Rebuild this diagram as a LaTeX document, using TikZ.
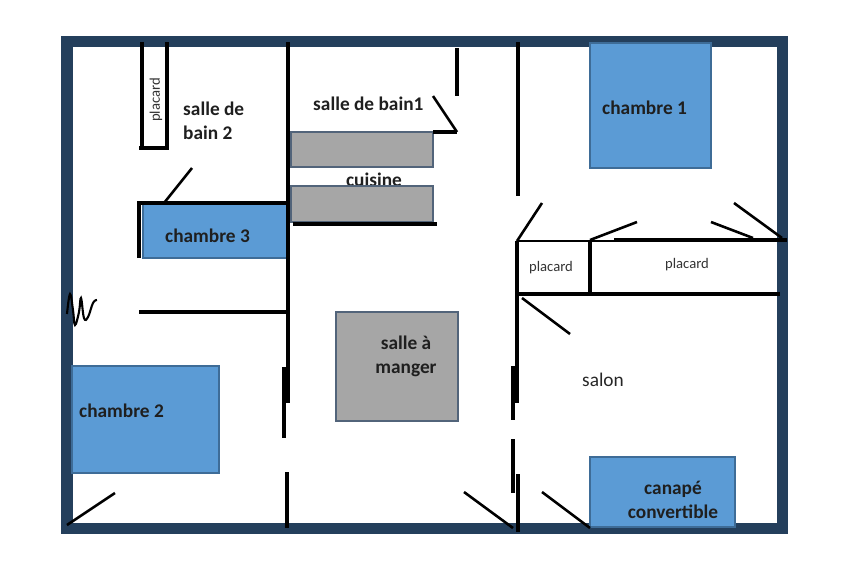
\documentclass[tikz,border=0pt]{standalone}
\usepackage{fontspec}
\setmainfont{Carlito}
\usetikzlibrary{calc,positioning}
\definecolor{framecol}{HTML}{243F5C}
\definecolor{bedblue}{HTML}{5B9BD5}
\definecolor{bededge}{HTML}{3E6C97}
\definecolor{furngray}{HTML}{A6A6A6}
\definecolor{furnedge}{HTML}{52647A}
\tikzset{
    frame/.style = {draw=framecol, line width=9.4pt},
    wall/.style = {draw=black, line width=2.6pt},
    leaf/.style = {draw=black, line width=2.2pt},
    bed/.style = {fill=bedblue, draw=bededge, line width=1.3pt},
    furn/.style = {fill=furngray, draw=furnedge, line width=1.1pt},
    lbl/.style = {inner sep=0pt, text=black!88, font=\fontsize{16.5}{20.4}\selectfont\bfseries},
    plain/.style = {inner sep=0pt, text=black!85, font=\fontsize{16.5}{20.4}\selectfont},
    small/.style = {inner sep=0pt, text=black!80, font=\fontsize{12.5}{14}\selectfont}
}

\begin{document}
\begin{tikzpicture}[x=0.03cm, y=-0.03cm]
    \useasboundingbox (0,0) rectangle (848,575);
    \draw[frame] (67,41) rectangle (782,528);

    % furniture
    \draw[bed] (143,203) rectangle (288,258);
    \draw[bed] (72,366) rectangle (219,473);
    \draw[bed] (590,43) rectangle (711,168);
    \draw[bed] (590,457) rectangle (735,527);
    \draw[furn] (291,132) rectangle (433,167);
    \node[lbl, anchor=base] (cuisine) at (374,186) {cuisine};
    \draw[furn] (291,186) rectangle (433,222);
    \draw[furn] (336,312) rectangle (458,421);

    % left wing
    \draw[wall] (142,42) -- (142,148) -- (139,148);
    \draw[wall] (167,42) -- (167,148) -- (142,148);
    \draw[leaf] (192,168) -- (164,203);
    \draw[wall] (139,258) -- (139,203) -- (288,203);
    \draw[wall] (288,42) -- (288,403);
    \draw[wall] (139,312) -- (288,312);
    \draw[wall] (284,367) -- (284,438);
    \draw[wall] (287,472) -- (287,528);
    \draw[leaf] (67,525) -- (115,493);
    \draw[line width=1.8pt] plot[smooth, tension=0.7] coordinates
        {(67,314) (70,294) (73,310) (75,325) (79,312) (81,298) (84,318) (88,317) (93,303) (97,300)};

    % middle
    \draw[wall] (293,224) -- (437,224);
    \draw[wall] (433,132) -- (457,132);
    \draw[leaf] (457,132) -- (433,96);
    \draw[wall] (457,48) -- (457,96);
    \draw[wall] (518,42) -- (518,196);
    \draw[wall] (517,241) -- (517,403);
    \draw[wall] (513,366) -- (513,420);
    \draw[wall] (513,439) -- (513,493);
    \draw[wall] (518,474) -- (518,532);
    \draw[leaf] (464,492) -- (513,528);

    % right wing
    \draw[leaf] (542,203) -- (517,241);
    \draw[leaf] (637,222) -- (590,240);
    \draw[leaf] (711,222) -- (753,238);
    \draw[leaf] (734,203) -- (782,238);
    \draw[leaf] (517,241) -- (614,241);
    \draw[line width=3.4pt] (614,240) -- (787,240);
    \draw[wall] (517,294) -- (780,294);
    \draw[wall] (590,240) -- (590,294);
    \draw[leaf] (522,298) -- (570,334);
    \draw[leaf] (542,492) -- (590,528);

    % labels
    \node[small, rotate=90] (placardA) at (156,100) {placard};
    \node[lbl, anchor=west, align=left] (sdb2) at (183,121) {salle de\\bain 2};
    \node[lbl, anchor=west] (ch3) at (165,236) {chambre 3};
    \node[lbl, anchor=west] (ch2) at (79,411) {chambre 2};
    \node[lbl, anchor=west] (sdb1) at (313,104) {salle de bain1};
    \node[lbl, align=center] (sam) at (406,356) {salle à\\manger};
    \node[lbl, anchor=west] (ch1) at (602,108) {chambre 1};
    \node[small] (placardB) at (551,268) {placard};
    \node[small] (placardC) at (687,265) {placard};
    \node[plain, anchor=west] (salon) at (582,380) {salon};
    \node[lbl, align=center] (canape) at (673,500) {canapé\\convertible};
\end{tikzpicture}
\end{document}
